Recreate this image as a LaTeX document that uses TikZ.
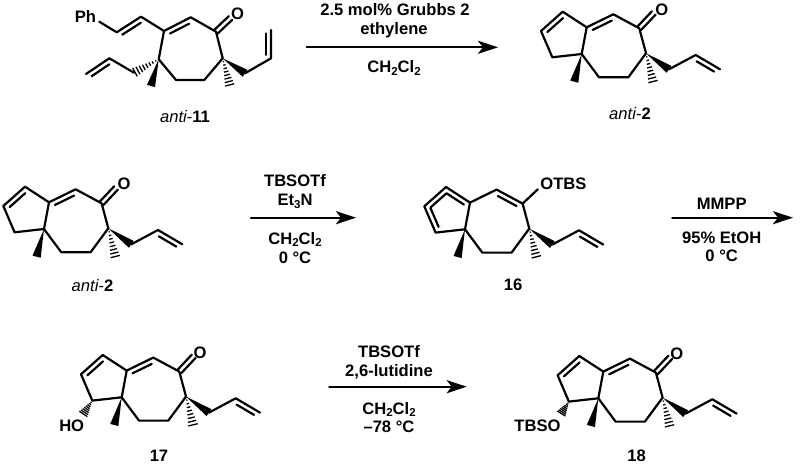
\documentclass[tikz,border=0pt]{standalone}
\usepackage{fontspec}
\setmainfont{Liberation Sans}
\usetikzlibrary{calc,arrows.meta}
\newcommand\chemsub[1]{\raisebox{-0.3ex}{\fontsize{11.5}{11.5}\selectfont #1}}
\newcommand\innerdb[4]{%
  \path ($(#1)!#4!(#2)$) coordinate (tmpp) ($(#2)!#4!(#1)$) coordinate (tmpq);
  \draw ($(tmpp)!5pt!#3:(#2)$) -- ($(tmpq)!5pt!-#3:(#1)$);}
\newcommand\carbonyl[2]{%
  \draw ($(#1)!2.5pt!90:(#2)$) -- ($(#2)!2.5pt!-90:(#1)$);
  \draw ($(#1)!2.5pt!-90:(#2)$) -- ($(#2)!2.5pt!90:(#1)$);}
\newcommand\wedgeb[2]{%
  \fill (#1) -- ($(#2)!4.2pt!90:(#1)$) -- ($(#2)!4.2pt!-90:(#1)$) -- cycle;}
\newcommand\hashb[2]{%
  \foreach \t in {0.12,0.24,0.36,0.48,0.60,0.72,0.84,0.96}{%
    \path ($(#1)!\t!(#2)$) coordinate (tmph);
    \draw[line width=1.3pt,line cap=butt] ($(tmph)!{\t*5pt}!90:(#1)$) -- ($(tmph)!{\t*5pt}!-90:(#1)$);}}
% common carbon skeleton, origin at the ring-fusion carbon
\newcommand\coreskel[2]{%
  \begin{scope}[shift={(#1,#2)}]
    \coordinate (top) at (-19,-42.3);
    \coordinate (left) at (-40.7,-23);
    \coordinate (bl) at (-29.4,3.3);
    \coordinate (q) at (0,0);
    \coordinate (j) at (5,-26.7);
    \coordinate (ch) at (31.6,-39.7);
    \coordinate (co) at (57.6,-25.7);
    \coordinate (oe) at (72,-41);
    \coordinate (q2) at (64.3,-0.7);
    \coordinate (c1) at (46.6,23.3);
    \coordinate (c2) at (17.3,23.3);
    \coordinate (me) at (-7.4,27.7);
    \coordinate (hme) at (71.6,28.7);
    \coordinate (al) at (87.3,15.3);
    \coordinate (al2) at (114,1);
    \coordinate (al3) at (138.3,15.3);
    \draw (top) -- (left) -- (bl) -- (q) -- (j) -- (top);
    \draw (j) -- (ch) -- (co) -- (q2) -- (c1) -- (c2) -- (q);
    \draw (al) -- (al2) -- (al3);
    \wedgeb{q}{me}
    \wedgeb{q2}{al}
    \hashb{q2}{hme}
    \innerdb{al2}{al3}{-90}{0.14}
    \innerdb{left}{top}{-90}{0.14}
  \end{scope}}
\newcommand\enone{%
  \innerdb{j}{ch}{-90}{0.14}
  \carbonyl{co}{oe}}
\tikzset{
  bond/.style={line width=2.2pt,line cap=round,line join=round},
  lbl/.style={font=\fontsize{16.6}{18}\selectfont\bfseries,inner sep=0pt,anchor=base},
  rxn/.style={line width=2.4pt,-{Stealth[length=20pt,width=13pt,inset=5pt]}}
}
\begin{document}
\begin{tikzpicture}[x=1pt,y=-1pt,bond]
\useasboundingbox (0,0) rectangle (800,465);
\fill[white] (0,0) rectangle (800,465);

% anti-11
\node[lbl] (ph) at (85.5,22.7) {Ph};
\coordinate (a1) at (99.3,21.7);
\coordinate (a2) at (116.7,32.3);
\coordinate (a3) at (141,16.7);
\coordinate (a4) at (164,31);
\coordinate (a5) at (190.7,17.3);
\coordinate (a6) at (216,31.7);
\coordinate (a7) at (230.5,18);
\node[lbl] (ao) at (237.7,19.3) {O};
\coordinate (a8) at (222.7,58.3);
\coordinate (a9) at (204.3,80);
\coordinate (a10) at (176,80);
\coordinate (a11) at (158.7,59.3);
\coordinate (a12) at (151,86);
\coordinate (a13) at (134,72.7);
\coordinate (a14) at (109.3,58.3);
\coordinate (a15) at (86,74);
\coordinate (a16) at (245,73.3);
\coordinate (a17) at (271,58.3);
\coordinate (a18) at (271,30);
\coordinate (a19) at (230,86);
\draw (a1) -- (a2) -- (a3) -- (a4) -- (a5) -- (a6) -- (a8) -- (a9) -- (a10) -- (a11) -- (a4);
\draw (a13) -- (a14) -- (a15);
\draw (a16) -- (a17) -- (a18);
\innerdb{a2}{a3}{-90}{0.12}
\innerdb{a4}{a5}{-90}{0.14}
\innerdb{a14}{a15}{90}{0.12}
\innerdb{a17}{a18}{90}{0.12}
\carbonyl{a6}{a7}
\wedgeb{a11}{a12}
\wedgeb{a8}{a16}
\hashb{a11}{a13}
\hashb{a8}{a19}
\node[lbl] (l11) at (185,122.7) {{\itshape\mdseries anti}{\mdseries -}11};

% anti-2 top
\coreskel{581.7}{54}
\enone
\node[lbl] (to) at (661.7,15.3) {O};
\node[lbl] (l2a) at (630,119.3) {{\itshape\mdseries anti}{\mdseries -}2};

% anti-2 middle
\coreskel{44}{229}
\enone
\node[lbl] (mo) at (124,189.3) {O};
\node[lbl] (l2b) at (92.5,291) {{\itshape\mdseries anti}{\mdseries -}2};

% 16
\coreskel{465}{229.3}
\innerdb{ch}{co}{-90}{0.14}
\innerdb{top}{j}{-90}{0.14}
\innerdb{left}{bl}{90}{0.14}
\node[lbl,anchor=base west] (otbs) at (539.3,189.5) {OTBS};
\draw (co) -- ($(otbs.west)+(-1.5,5.5)$);
\node[lbl] (l16) at (513,290) {16};

% 17
\coreskel{121.7}{397.3}
\enone
\node[lbl] (so) at (200,358.7) {O};
\node[lbl] (ho) at (71.7,431) {HO};
\coordinate (h17) at (83,414.5);
\hashb{bl}{h17}
\node[lbl] (l17) at (159,461) {17};

% 18
\coreskel{598.3}{398.3}
\enone
\node[lbl] (eo) at (676.8,359) {O};
\node[lbl,anchor=base east] (tbso) at (561.7,431.7) {TBSO};
\coordinate (h18) at (561,414);
\hashb{bl}{h18}
\node[lbl] (l18) at (636.7,461) {18};

% reaction arrows
\coordinate (r1s) at (306.7,47.3); \coordinate (r1e) at (498,47.3);
\coordinate (r2s) at (251,217.7);  \coordinate (r2e) at (356,217.7);
\coordinate (r3s) at (672.3,217.7);\coordinate (r3e) at (793,217.7);
\coordinate (r4s) at (329.3,386.7);\coordinate (r4e) at (466.7,386.7);
\draw[rxn] (r1s) -- (r1e);
\draw[rxn] (r2s) -- (r2e);
\draw[rxn] (r3s) -- (r3e);
\draw[rxn] (r4s) -- (r4e);

\node[lbl] (t1a) at (395,16) {2.5 mol\% Grubbs 2};
\node[lbl] (t1b) at (394,34.5) {ethylene};
\node[lbl] (t1c) at (394,73) {CH\chemsub{2}Cl\chemsub{2}};

\node[lbl] (t2a) at (295,187) {TBSOTf};
\node[lbl] (t2b) at (295,206) {Et\chemsub{3}N};
\node[lbl] (t2c) at (295,244) {CH\chemsub{2}Cl\chemsub{2}};
\node[lbl] (t2d) at (295,263) {0 °C};

\node[lbl] (t3a) at (721.7,209) {MMPP};
\node[lbl] (t3b) at (721.7,243) {95\% EtOH};
\node[lbl] (t3c) at (721.7,261) {0 °C};

\node[lbl] (t4a) at (389,357) {TBSOTf};
\node[lbl] (t4b) at (389,376) {2,6-lutidine};
\node[lbl] (t4c) at (389,414) {CH\chemsub{2}Cl\chemsub{2}};
\node[lbl] (t4d) at (389,432) {–78 °C};
\end{tikzpicture}
\end{document}
